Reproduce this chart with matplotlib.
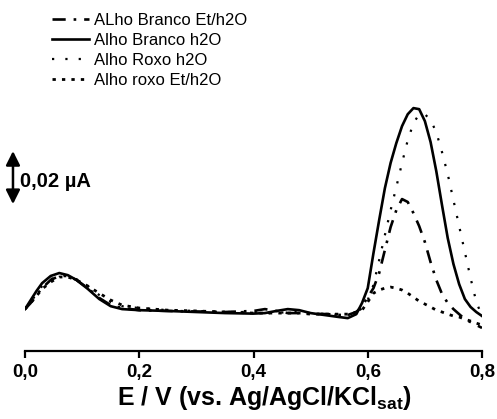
import matplotlib
matplotlib.use("Agg")
import matplotlib.pyplot as plt

plt.rcParams['font.family'] = ['Liberation Sans', 'DejaVu Sans']

# Potential (V vs Ag/AgCl/KCl sat)
E = [0, .01, .02, .03, .045, .06, .075, .09, .11, .13, .15, .17,
     .2, .25, .3, .35, .4, .42, .44, .46, .48, .5, .53, .55, .565, .58,
     .59, .60, .61, .62, .63, .64, .65, .66, .67, .68, .69, .70, .71, .72,
     .73, .74, .75, .76, .77, .78, .79, .80]

# Currents (uA)
branco_et = [.0079, .0102, .0132, .0158, .0189, .0204, .0204, .0189, .0158, .0121, .0094, .0083,
             .0075, .0072, .0070, .0068, .0072, .0079, .0072, .0064, .0064, .0062, .0060, .0057, .0057, .0068,
             .0090, .0124, .0158, .0215, .0302, .0388, .0452, .0494, .0483, .0441, .0392, .0332, .0256, .0189,
             .0136, .0102, .0079, .0060, .0041, .0030, .0019, .0008]
branco_h2o = [.0079, .0113, .0147, .0177, .0204, .0215, .0207, .0189, .0155, .0117, .0090, .0079,
              .0075, .0072, .0068, .0064, .0062, .0064, .0072, .0079, .0075, .0064, .0055, .0049, .0045, .0060,
              .0102, .0158, .0290, .0415, .0535, .0630, .0705, .0769, .0814, .0837, .0833, .0788, .0709, .0599,
              .0471, .0347, .0249, .0173, .0117, .0087, .0068, .0053]
roxo_h2o = [.0079, .0106, .0136, .0166, .0192, .0207, .0207, .0192, .0166, .0132, .0106, .0090,
            .0083, .0075, .0072, .0068, .0068, .0064, .0064, .0068, .0068, .0064, .0060, .0057, .0057, .0064,
            .0083, .0113, .0170, .0264, .0358, .0452, .0539, .0630, .0716, .0780, .0814, .0814, .0792, .0746,
            .0671, .0588, .0490, .0392, .0294, .0196, .0106, .0053]
roxo_et = [.0079, .0102, .0128, .0155, .0181, .0200, .0200, .0189, .0166, .0139, .0113, .0094,
           .0083, .0075, .0072, .0068, .0064, .0064, .0064, .0064, .0064, .0060, .0060, .0060, .0060, .0068,
           .0075, .0106, .0139, .0151, .0158, .0162, .0158, .0151, .0139, .0124, .0109, .0098, .0087, .0075,
           .0068, .0060, .0053, .0049, .0041, .0034, .0026, .0019]

labels = ["ALho Branco Et/h2O", "Alho Branco h2O", "Alho Roxo h2O", "Alho roxo Et/h2O"]
xticks = [0.0, 0.2, 0.4, 0.6, 0.8]
xticklabels = ["0,0", "0,2", "0,4", "0,6", "0,8"]
scale_value = 0.02  # uA
scale_label = "0,02 \u00b5A"

fig = plt.figure(figsize=(4.97, 4.19), dpi=100)
ax = fig.add_axes([25/497, 68/419, 457/497, 271/419])

ax.plot(E, branco_et, color='k', lw=1.9, ls=(0, (5, 3, 1, 3)), label=labels[0])
ax.plot(E, branco_h2o, color='k', lw=1.9, ls='-', label=labels[1])
ax.plot(E, roxo_h2o, color='k', lw=1.6, ls=(0, (1, 5)), label=labels[2])
ax.plot(E, roxo_et, color='k', lw=2.0, ls=(0, (1.2, 2.2)), label=labels[3])

ax.set_xlim(0, 0.8)
ax.set_ylim(-0.0079, 0.0943)
for s in ['left', 'top', 'right']:
    ax.spines[s].set_visible(False)
ax.spines['bottom'].set_linewidth(1.6)
ax.set_yticks([])
ax.set_xticks(xticks)
ax.set_xticklabels(xticklabels, fontsize=13.5, fontweight='bold')
ax.tick_params(axis='x', direction='out', length=5, width=1.6, pad=4)

fig.text(117/497, 14/419, "E / V (vs. Ag/AgCl/KCl$_{\\mathregular{sat}}$)",
         fontsize=18, fontweight='bold', ha='left', va='baseline')

# scale bar
yc = 0.0575
ax.annotate('', xy=(-0.0263, yc + scale_value/2), xytext=(-0.0263, yc - scale_value/2),
            xycoords=('axes fraction', 'data'), textcoords=('axes fraction', 'data'),
            arrowprops=dict(arrowstyle='<|-|>,head_length=0.6,head_width=0.3', lw=1.8,
                            color='k', shrinkA=0, shrinkB=0, mutation_scale=14),
            annotation_clip=False)
ax.text(-0.011, 0.0562, scale_label, transform=ax.get_yaxis_transform(),
        fontsize=14.5, fontweight='bold', ha='left', va='center')

fig.legend(loc='upper left', bbox_to_anchor=(52/497, 1 - 13/419), frameon=False,
           fontsize=12, handlelength=2.2, handletextpad=0.3, labelspacing=0.3,
           borderpad=0, borderaxespad=0)

fig.savefig("out.png", dpi=100)
